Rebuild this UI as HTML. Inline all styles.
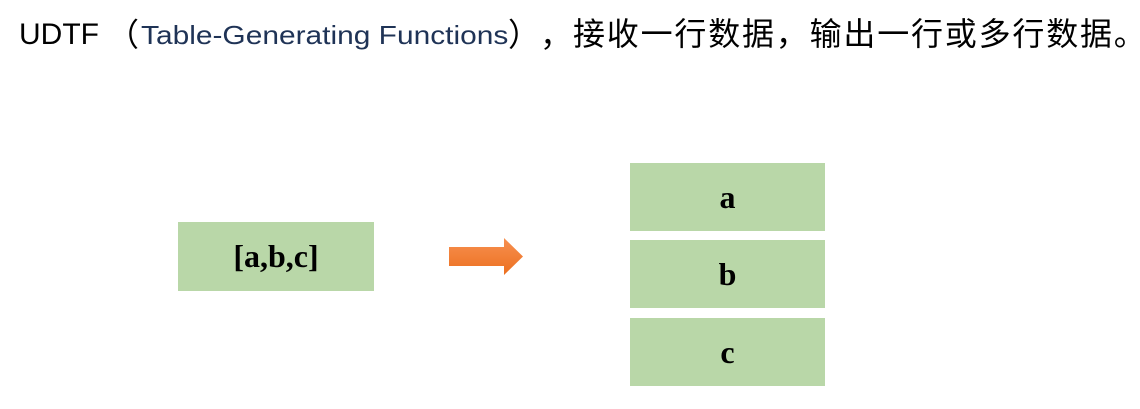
<!DOCTYPE html>
<html><head><meta charset="utf-8"><style>
body{margin:0;width:1140px;height:409px;background:#fff;position:relative;overflow:hidden}
.p{position:absolute;font-family:"Liberation Sans","Noto Sans CJK SC",sans-serif;color:#000;white-space:nowrap;line-height:1}
.b{position:absolute;background:#b9d7a8;font-family:"Liberation Serif",serif;font-weight:bold;font-size:32px;display:flex;align-items:center;justify-content:center;color:#000}
</style></head><body>
<div class="p" style="left:19px;top:20px;font-size:30px">UDTF</div>
<div class="p" style="left:107px;top:19px;font-size:32px">（</div>
<div class="p" style="left:141px;top:22px;font-size:26px;color:#1f3356;transform-origin:0 0;transform:scaleX(1.15)">Table-Generating Functions</div>
<div class="p" style="left:508px;top:19px;font-size:32px">）</div>
<div class="p" style="left:540px;top:19px;font-size:32px">，</div>
<div class="p" style="left:573px;top:18px;font-size:32px;letter-spacing:1.8px">接收一行数据，输出一行或多行数据。</div>
<div class="b" style="left:178px;top:222px;width:196px;height:69px">[a,b,c]</div>
<div class="b" style="left:630px;top:163px;width:195px;height:68px">a</div>
<div class="b" style="left:630px;top:240px;width:195px;height:68px">b</div>
<div class="b" style="left:630px;top:318px;width:195px;height:68px">c</div>
<svg style="position:absolute;left:0;top:0" width="1140" height="409">
<defs><linearGradient id="g" x1="0" y1="0" x2="0" y2="1"><stop offset="0" stop-color="#f79050"/><stop offset="1" stop-color="#ec7020"/></linearGradient></defs>
<polygon points="449,247 504,247 504,238 523,256.5 504,275 504,266 449,266" fill="url(#g)"/>
</svg>
</body></html>
